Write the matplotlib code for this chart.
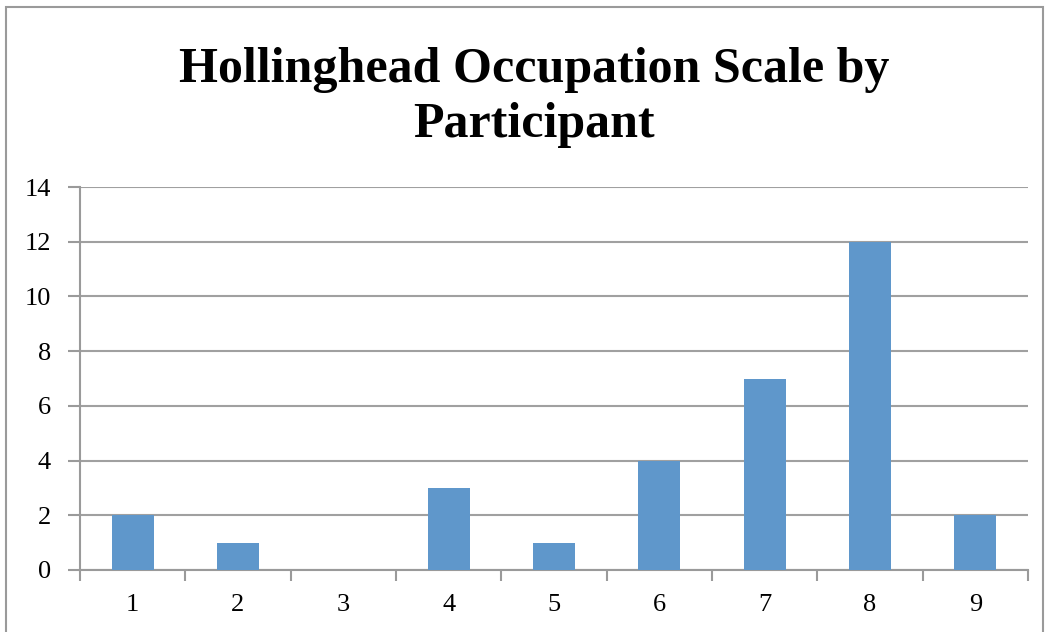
import matplotlib
matplotlib.use("Agg")
import matplotlib.pyplot as plt
from matplotlib.patches import Rectangle

participants = ["1", "2", "3", "4", "5", "6", "7", "8", "9"]
scores = [2, 1, 0, 3, 1, 4, 7, 12, 2]
yticks = [0, 2, 4, 6, 8, 10, 12, 14]
title_lines = ["Hollinghead Occupation Scale by", "Participant"]

W, H = 1047, 632
fig = plt.figure(figsize=(W / 100, H / 100), dpi=100)
plt.rcParams['font.family'] = ['Liberation Serif', 'DejaVu Serif']

# outer chart border
fig.patches.append(Rectangle((6 / W, -0.05), (1043 - 6) / W, 1.05 - 7 / H,
                             transform=fig.transFigure, fill=False,
                             edgecolor='#9a9a9a', linewidth=1.5))

ax = fig.add_axes([80 / W, (H - 570) / H, (1028 - 80) / W, (570 - 187) / H])
x = list(range(len(participants)))
ax.bar(x, scores, width=0.4, color='#5F97CB', zorder=3)
ax.set_xlim(-0.5, len(participants) - 0.5)
ax.set_ylim(0, 14)
ax.set_yticks(yticks)
ax.set_yticklabels([str(v) for v in yticks], fontsize=19)
ax.set_xticks(x)
ax.set_xticklabels(participants, fontsize=19)
ax.tick_params(axis='x', length=0, pad=17)
ax.set_xticks([i + 0.5 for i in range(-1, len(participants))], minor=True)
ax.tick_params(axis='x', which='minor', length=8, width=1.5, color='#9a9a9a')
ax.tick_params(axis='y', length=9, width=1.5, color='#9a9a9a', pad=12)
ax.grid(axis='y', color='#a0a0a0', linewidth=1.5, zorder=0)
for s in ['top', 'right']:
    ax.spines[s].set_visible(False)
for s in ['left', 'bottom']:
    ax.spines[s].set_color('#9a9a9a')
    ax.spines[s].set_linewidth(1.5)

for line, base in zip(title_lines, [82, 137]):
    fig.text(534 / W, 1 - base / H, line, ha='center', va='baseline',
             fontsize=36, fontweight='bold')

fig.savefig("out.png", dpi=100)
